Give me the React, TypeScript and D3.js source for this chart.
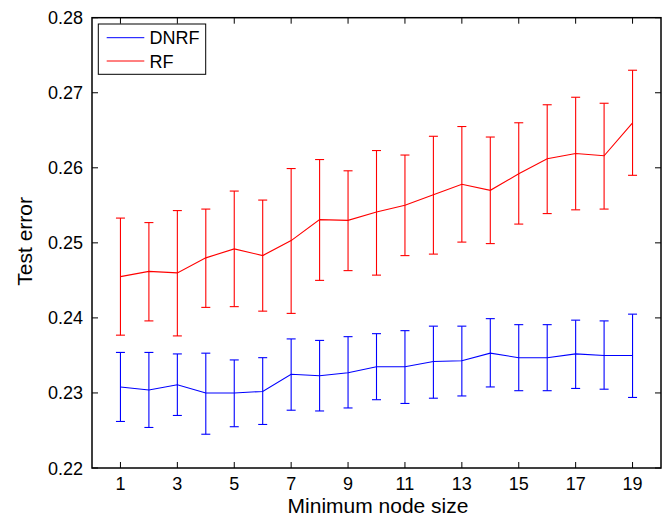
import React from "react";
import * as d3 from "d3";

const nodeSizes = [1, 2, 3, 4, 5, 6, 7, 8, 9, 10, 11, 12, 13, 14, 15, 16, 17, 18, 19];

const rfMean = [0.2455, 0.2462, 0.2460, 0.2480, 0.2492, 0.2483, 0.2503, 0.2531, 0.2530, 0.2541, 0.2550, 0.2564, 0.2578, 0.2570, 0.2592, 0.2612, 0.2619, 0.2616, 0.2660];
const rfUpper = [0.2533, 0.2527, 0.2543, 0.2545, 0.2569, 0.2557, 0.2599, 0.2611, 0.2596, 0.2623, 0.2617, 0.2642, 0.2655, 0.2641, 0.2660, 0.2684, 0.2694, 0.2686, 0.2730];
const rfLower = [0.2377, 0.2396, 0.2376, 0.2414, 0.2415, 0.2409, 0.2406, 0.2450, 0.2463, 0.2457, 0.2483, 0.2485, 0.2501, 0.2499, 0.2525, 0.2539, 0.2544, 0.2545, 0.2590];

const dnrfMean = [0.2308, 0.2304, 0.2311, 0.2300, 0.2300, 0.2302, 0.2325, 0.2323, 0.2327, 0.2335, 0.2335, 0.2342, 0.2343, 0.2353, 0.2347, 0.2347, 0.2352, 0.2350, 0.2350];
const dnrfUpper = [0.2354, 0.2354, 0.2352, 0.2353, 0.2344, 0.2347, 0.2372, 0.2370, 0.2375, 0.2379, 0.2383, 0.2389, 0.2389, 0.2399, 0.2391, 0.2391, 0.2397, 0.2396, 0.2405];
const dnrfLower = [0.2262, 0.2254, 0.2270, 0.2245, 0.2255, 0.2258, 0.2277, 0.2276, 0.2280, 0.2291, 0.2286, 0.2293, 0.2296, 0.2308, 0.2303, 0.2303, 0.2306, 0.2305, 0.2294];

const xTicks = [1, 3, 5, 7, 9, 11, 13, 15, 17, 19];
const yTicks = [0.22, 0.23, 0.24, 0.25, 0.26, 0.27, 0.28];

const seriesNames = ["DNRF", "RF"];
const seriesColors = ["#0000ff", "#ff0000"];

const FONT = "'Liberation Sans', Arial, Helvetica, sans-serif";

export default function App() {
  const W = 670, H = 526;
  const left = 92, right = 661, top = 17.7, bottom = 468;
  const x = d3.scaleLinear().domain([0, 20]).range([left, right]);
  const y = d3.scaleLinear().domain([0.22, 0.28]).range([bottom, top]);
  const line = d3.line<number>().x((_, i) => x(nodeSizes[i])).y((d) => y(d));
  const tickLen = 6;
  const cap = 4.5;

  const series = [
    { mean: dnrfMean, upper: dnrfUpper, lower: dnrfLower, color: seriesColors[0] },
    { mean: rfMean, upper: rfUpper, lower: rfLower, color: seriesColors[1] },
  ];

  return (
    <svg width={W} height={H} style={{ position: "absolute", left: 0, top: 0, background: "#fff" }} fontFamily={FONT}>
      <rect x={0} y={0} width={W} height={H} fill="#fff" />
      {series.map((s, si) => (
        <g key={si} stroke={s.color} strokeWidth={1.1} fill="none">
          {nodeSizes.map((n, i) => (
            <g key={i}>
              <line x1={x(n)} x2={x(n)} y1={y(s.upper[i])} y2={y(s.lower[i])} />
              <line x1={x(n) - cap} x2={x(n) + cap} y1={y(s.upper[i])} y2={y(s.upper[i])} />
              <line x1={x(n) - cap} x2={x(n) + cap} y1={y(s.lower[i])} y2={y(s.lower[i])} />
            </g>
          ))}
          <path d={line(s.mean) || ""} />
        </g>
      ))}
      {/* axes box */}
      <rect x={left} y={top} width={right - left} height={bottom - top} fill="none" stroke="#000" strokeWidth={1.5} />
      {xTicks.map((t) => (
        <g key={"x" + t}>
          <line x1={x(t)} x2={x(t)} y1={bottom} y2={bottom - tickLen} stroke="#000" strokeWidth={1} />
          <line x1={x(t)} x2={x(t)} y1={top} y2={top + tickLen} stroke="#000" strokeWidth={1} />
          <text x={x(t)} y={490} textAnchor="middle" fontSize={18} fill="#000">{t}</text>
        </g>
      ))}
      {yTicks.map((t) => (
        <g key={"y" + t}>
          <line x1={left} x2={left + tickLen} y1={y(t)} y2={y(t)} stroke="#000" strokeWidth={1} />
          <line x1={right} x2={right - tickLen} y1={y(t)} y2={y(t)} stroke="#000" strokeWidth={1} />
          <text x={83} y={y(t) + 6.5} textAnchor="end" fontSize={18} fill="#000">{t.toFixed(2)}</text>
        </g>
      ))}
      <text x={(left + right) / 2 + 1.5} y={513} textAnchor="middle" fontSize={21} fill="#000">Minimum node size</text>
      <text transform={`translate(32, ${(top + bottom) / 2 - 1.5}) rotate(-90)`} textAnchor="middle" fontSize={21} fill="#000">Test error</text>
      {/* legend */}
      <rect x={98.3} y={24} width={107.4} height={50.3} fill="#fff" stroke="#000" strokeWidth={1} />
      {seriesNames.map((name, i) => (
        <g key={name}>
          <line x1={106.7} x2={144.3} y1={37.7 + i * 23.3} y2={37.7 + i * 23.3} stroke={seriesColors[i]} strokeWidth={1} />
          <text x={149.5} y={37.7 + i * 23.3 + 6.5} fontSize={18} fill="#000">{name}</text>
        </g>
      ))}
    </svg>
  );
}
